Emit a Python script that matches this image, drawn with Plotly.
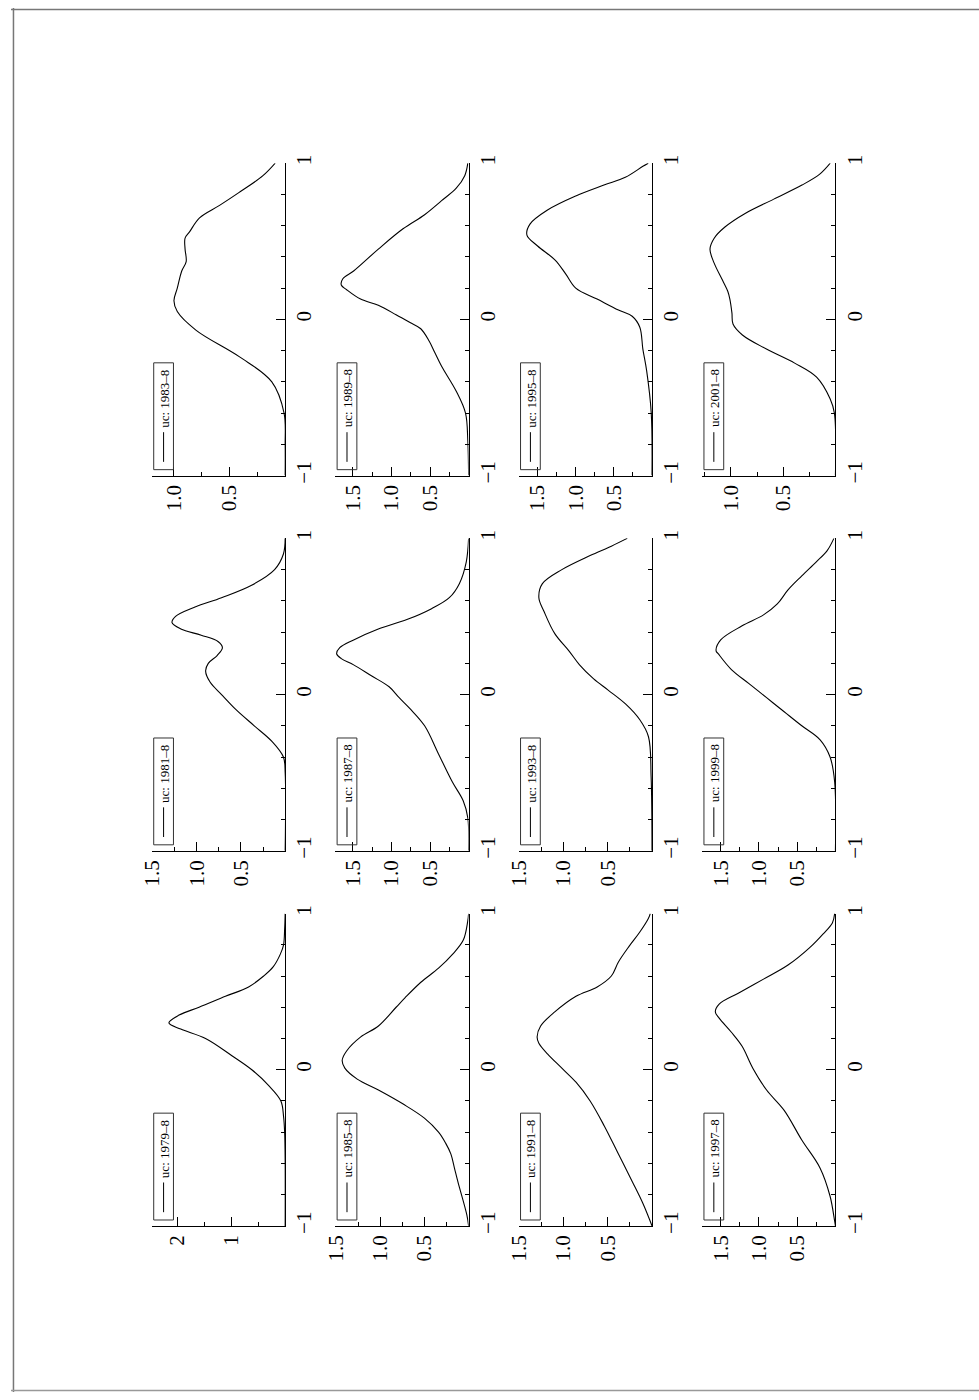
import plotly.graph_objects as go

W, H = 979, 1400
FONT = "Liberation Serif"

# panel order: rows top->bottom, columns left->right
layout_years = [
    ["1983", "1989", "1995", "2001"],
    ["1981", "1987", "1993", "1999"],
    ["1979", "1985", "1991", "1997"],
]

# x grid (support of the density) and density values
x_1979 = [-1, -0.6, -0.4, -0.3, -0.2, -0.1, 0, 0.09, 0.2, 0.26, 0.3, 0.35, 0.4, 0.47, 0.53, 0.6, 0.66, 0.74, 0.8, 0.9, 1]
d_1979 = [0, 0, 0.01, 0.03, 0.08, 0.31, 0.62, 0.99, 1.48, 1.94, 2.16, 1.97, 1.6, 1.11, 0.68, 0.4, 0.22, 0.09, 0.03, 0.01, 0]

x_1981 = [-1, -0.5, -0.4, -0.3, -0.2, -0.1, 0, 0.08, 0.15, 0.2, 0.25, 0.3, 0.34, 0.38, 0.42, 0.46, 0.5, 0.56, 0.62, 0.7, 0.8, 0.9, 1]
d_1981 = [0, 0, 0.02, 0.15, 0.35, 0.55, 0.72, 0.85, 0.9, 0.87, 0.77, 0.71, 0.76, 0.95, 1.18, 1.28, 1.24, 1.02, 0.72, 0.38, 0.12, 0.02, 0]

x_1983 = [-1, -0.8, -0.6, -0.4, -0.24, -0.07, 0.05, 0.12, 0.2, 0.31, 0.37, 0.45, 0.52, 0.56, 0.65, 0.73, 0.81, 0.92, 1.0]
d_1983 = [0, 0, 0.01, 0.12, 0.41, 0.8, 0.97, 1.0, 0.97, 0.93, 0.89, 0.9, 0.9, 0.86, 0.77, 0.59, 0.42, 0.2, 0.09]

x_1985 = [-1, -0.93, -0.72, -0.63, -0.54, -0.47, -0.4, -0.31, -0.22, -0.13, -0.06, 0.01, 0.06, 0.12, 0.21, 0.28, 0.4, 0.46, 0.56, 0.65, 0.74, 0.83, 0.95, 1]
d_1985 = [0, 0.02, 0.12, 0.16, 0.2, 0.26, 0.34, 0.5, 0.74, 1.02, 1.26, 1.4, 1.43, 1.38, 1.22, 1.02, 0.82, 0.72, 0.54, 0.34, 0.18, 0.06, 0.01, 0]

x_1987 = [-1, -0.79, -0.68, -0.56, -0.38, -0.2, -0.09, -0.02, 0.05, 0.12, 0.19, 0.23, 0.26, 0.3, 0.35, 0.42, 0.48, 0.55, 0.62, 0.71, 0.85, 1]
d_1987 = [0, 0.01, 0.07, 0.21, 0.39, 0.57, 0.76, 0.9, 1.03, 1.26, 1.49, 1.65, 1.71, 1.67, 1.49, 1.17, 0.8, 0.48, 0.25, 0.12, 0.03, 0]

x_1989 = [-1, -0.78, -0.6, -0.46, -0.3, -0.21, -0.14, -0.06, -0.02, 0.03, 0.09, 0.13, 0.19, 0.22, 0.26, 0.31, 0.45, 0.58, 0.67, 0.76, 0.84, 0.92, 1.0]
d_1989 = [0, 0.01, 0.04, 0.16, 0.35, 0.44, 0.51, 0.62, 0.76, 0.94, 1.17, 1.4, 1.58, 1.65, 1.63, 1.49, 1.17, 0.85, 0.57, 0.35, 0.16, 0.05, 0.01]

x_1991 = [-1, -0.86, -0.72, -0.54, -0.36, -0.2, -0.08, 0.01, 0.1, 0.17, 0.21, 0.28, 0.37, 0.47, 0.53, 0.6, 0.69, 0.79, 0.88, 0.97, 1]
d_1991 = [0, 0.1, 0.22, 0.38, 0.54, 0.7, 0.86, 1.02, 1.18, 1.28, 1.3, 1.26, 1.1, 0.86, 0.62, 0.46, 0.38, 0.26, 0.14, 0.04, 0.02]

x_1993 = [-1, -0.53, -0.27, -0.16, -0.06, 0.03, 0.1, 0.19, 0.28, 0.39, 0.53, 0.62, 0.71, 0.8, 0.89, 0.95, 1.0]
d_1993 = [0, 0.01, 0.04, 0.14, 0.3, 0.5, 0.66, 0.82, 0.94, 1.1, 1.22, 1.28, 1.24, 1.02, 0.7, 0.46, 0.28]

x_1995 = [-1, -0.6, -0.33, -0.19, -0.05, 0.02, 0.06, 0.13, 0.2, 0.29, 0.38, 0.47, 0.54, 0.61, 0.7, 0.79, 0.86, 0.91, 0.98, 1.0]
d_1995 = [0, 0.01, 0.07, 0.12, 0.16, 0.26, 0.44, 0.72, 1.0, 1.13, 1.27, 1.5, 1.64, 1.6, 1.37, 1.0, 0.63, 0.35, 0.12, 0.05]

x_1997 = [-1, -0.97, -0.81, -0.63, -0.45, -0.26, -0.13, 0.01, 0.15, 0.24, 0.33, 0.37, 0.42, 0.49, 0.58, 0.67, 0.78, 0.87, 0.94, 1]
d_1997 = [0, 0.01, 0.07, 0.2, 0.44, 0.67, 0.9, 1.08, 1.22, 1.36, 1.52, 1.57, 1.52, 1.27, 0.94, 0.62, 0.34, 0.16, 0.04, 0.01]

x_1999 = [-1, -0.56, -0.4, -0.29, -0.2, -0.11, -0.02, 0.07, 0.16, 0.26, 0.28, 0.35, 0.44, 0.51, 0.58, 0.67, 0.76, 0.85, 0.92, 1]
d_1999 = [0, 0.01, 0.07, 0.2, 0.44, 0.67, 0.9, 1.13, 1.36, 1.53, 1.56, 1.5, 1.22, 0.94, 0.76, 0.62, 0.44, 0.25, 0.11, 0.02]

x_2001 = [-1, -0.6, -0.51, -0.37, -0.28, -0.19, -0.1, -0.03, 0.04, 0.13, 0.18, 0.25, 0.36, 0.45, 0.52, 0.59, 0.68, 0.77, 0.86, 0.93, 1]
d_2001 = [0, 0.01, 0.05, 0.18, 0.39, 0.66, 0.89, 0.98, 0.99, 1.01, 1.03, 1.08, 1.16, 1.2, 1.16, 1.06, 0.86, 0.59, 0.32, 0.15, 0.05]

series = {
    "1979": (x_1979, d_1979), "1981": (x_1981, d_1981), "1983": (x_1983, d_1983),
    "1985": (x_1985, d_1985), "1987": (x_1987, d_1987), "1989": (x_1989, d_1989),
    "1991": (x_1991, d_1991), "1993": (x_1993, d_1993), "1995": (x_1995, d_1995),
    "1997": (x_1997, d_1997), "1999": (x_1999, d_1999), "2001": (x_2001, d_2001),
}

# density-axis upper limits and tick labels per panel
dens_max = {
    "1979": 2.48, "1981": 1.51, "1983": 1.2, "1985": 1.51, "1987": 1.73, "1989": 1.73,
    "1991": 1.51, "1993": 1.51, "1995": 1.75, "1997": 1.745, "1999": 1.745, "2001": 1.277,
}
dens_ticks = {
    "1979": ([1, 2], 0.5, "d"),
    "1983": ([0.5, 1.0], 0.25, ".1f"),
    "2001": ([0.5, 1.0], 0.25, ".1f"),
}
default_ticks = ([0.5, 1.0, 1.5], 0.25, ".1f")

x_ticks = [-1, 0, 1]

fig = go.Figure()
layout = {}
shapes = []
annotations = []

PW, PH = 135.0, 316.0
for r, row in enumerate(layout_years):
    for c, yr in enumerate(row):
        i = r * 4 + c + 1
        sfx = "" if i == 1 else str(i)
        right = 277.3 + c * 185.5
        left = right - PW
        bottom = 473.0 + r * 379.5
        top = bottom - PH
        xs, ds = series[yr]
        fig.add_trace(go.Scatter(
            x=ds, y=xs, mode="lines",
            line=dict(color="black", width=1.1, shape="spline", smoothing=1.0),
            xaxis=f"x{sfx}", yaxis=f"y{sfx}", showlegend=False, hoverinfo="skip",
            cliponaxis=True))
        tv, mdt, fmt = dens_ticks.get(yr, default_ticks)
        layout[f"xaxis{sfx}"] = dict(
            domain=[left / W, right / W], range=[dens_max[yr], 0], anchor=f"y{sfx}",
            showline=True, linecolor="black", linewidth=1, showgrid=False, zeroline=False,
            ticks="inside", ticklen=9, tickwidth=1, tickcolor="black",
            tickvals=tv, tickformat=fmt, tickangle=-90,
            tickfont=dict(family=FONT, size=21, color="black"),
            minor=dict(ticks="inside", ticklen=4, tickwidth=1, tickcolor="black", dtick=mdt, tick0=0),
            fixedrange=True,
        )
        layout[f"yaxis{sfx}"] = dict(
            domain=[1 - bottom / H, 1 - top / H], range=[-1, 1], anchor=f"x{sfx}", side="right",
            showline=True, linecolor="black", linewidth=1, showgrid=False, zeroline=False,
            ticks="inside", ticklen=9, tickwidth=1, tickcolor="black",
            tickvals=x_ticks, tickangle=-90,
            tickfont=dict(family=FONT, size=21, color="black"),
            minor=dict(ticks="inside", ticklen=4, tickwidth=1, tickcolor="black", dtick=0.2, tick0=0),
            fixedrange=True,
        )
        # legend box
        shapes.append(dict(type="rect", xref=f"x{sfx} domain", yref=f"y{sfx} domain",
                           x0=0.015, x1=0.163, y0=0.019, y1=0.361,
                           line=dict(color="#333", width=1), fillcolor="rgba(0,0,0,0)"))
        shapes.append(dict(type="line", xref=f"x{sfx} domain", yref=f"y{sfx} domain",
                           x0=0.089, x1=0.089, y0=0.044, y1=0.139,
                           line=dict(color="black", width=1)))
        annotations.append(dict(xref=f"x{sfx} domain", yref=f"y{sfx} domain", x=0.095, y=0.247,
                                text=f"uc: {yr}–8", textangle=-90, showarrow=False,
                                xanchor="center", yanchor="middle",
                                font=dict(family=FONT, size=13, color="black")))

# page frame
shapes.append(dict(type="line", xref="paper", yref="paper", x0=2.5 / W, x1=2.5 / W, y0=0, y1=1,
                   line=dict(color="#777", width=1.5)))
shapes.append(dict(type="line", xref="paper", yref="paper", x0=0, x1=1, y0=1 - 1.5 / H, y1=1 - 1.5 / H,
                   line=dict(color="#777", width=1.5)))
shapes.append(dict(type="line", xref="paper", yref="paper", x0=0, x1=1, y0=1 - 1398.5 / H, y1=1 - 1398.5 / H,
                   line=dict(color="#999", width=1.5)))

fig.update_layout(
    width=W, height=H, margin=dict(l=0, r=0, t=0, b=0),
    paper_bgcolor="white", plot_bgcolor="white",
    shapes=shapes, annotations=annotations, showlegend=False,
    **layout,
)
fig.write_html(
    "out.html",
    config={"displayModeBar": False, "staticPlot": True},
    post_script=(
        "document.documentElement.style.margin='0';document.body.style.margin='0';"
        "document.body.style.padding='0';document.documentElement.style.overflow='hidden';"
        "var gd=document.getElementById('{plot_id}');"
        "gd.style.position='fixed';gd.style.left='0px';gd.style.top='0px';"
    ),
)
